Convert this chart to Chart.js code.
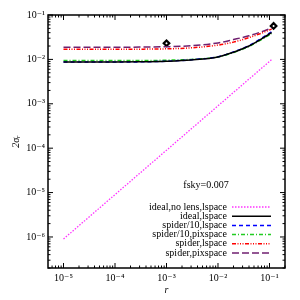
<!DOCTYPE html>
<html>
<head>
<meta charset="utf-8">
<script src="https://cdn.jsdelivr.net/npm/chart.js@4"></script>
<style>
  html, body { margin: 0; padding: 0; background: #fff; }
</style>
</head>
<body>
<canvas id="grafico" width="300" height="300"></canvas>
<script>
// valores de r (eje x)
const rVals = [1e-5, 3e-5, 1e-4, 3e-4, 1e-3, 3e-3, 1e-2, 2e-2, 4e-2, 7e-2, 0.11];

// 2 sigma_r para cada caso
const idealNoLens = [9e-7, 2.7e-6, 9e-6, 2.7e-5, 9e-5, 2.7e-4, 9e-4, 1.8e-3, 3.6e-3, 6.3e-3, 9.9e-3];
const idealLspace = [0.0087, 0.0087, 0.0087, 0.0088, 0.0091, 0.0097, 0.0113, 0.0145, 0.020, 0.029, 0.040];
const spider10Lspace = [0.0087, 0.0087, 0.0087, 0.0088, 0.0091, 0.0098, 0.0115, 0.0148, 0.0205, 0.030, 0.042];
const spider10Pix = [0.0094, 0.0094, 0.0094, 0.0094, 0.0096, 0.0100, 0.0114, 0.0143, 0.0195, 0.028, 0.038];
const spiderLspace = [0.0169, 0.0169, 0.0169, 0.0170, 0.0173, 0.0182, 0.021, 0.0245, 0.031, 0.039, 0.048];
const spiderPix = [0.0188, 0.0188, 0.0188, 0.0189, 0.0193, 0.0203, 0.0235, 0.028, 0.034, 0.042, 0.051];

// marcadores (rombos)
const diamondR = [1e-3, 0.12];
const diamondS = [0.0231, 0.0566];

const labels = ['ideal,no lens,lspace', 'ideal,lspace', 'spider/10,lspace', 'spider/10,pixspace', 'spider,lspace', 'spider,pixspace'];

const serif = "'Liberation Serif', 'DejaVu Serif', serif";
const supMap = { '-': '\u207B', '0': '\u2070', '1': '\u00B9', '2': '\u00B2', '3': '\u00B3', '4': '\u2074', '5': '\u2075', '6': '\u2076', '7': '\u2077', '8': '\u2078', '9': '\u2079' };
const sup = n => String(n).split('').map(c => supMap[c]).join('');

const decadeLabel = v => {
  const e = Math.log10(v);
  if (Math.abs(e - Math.round(e)) < 1e-6) return '10' + sup(Math.round(e));
  return '';
};

const toPts = ys => rVals.map((r, i) => ({ x: r, y: ys[i] }));

const linea = (label, ys, color, dash, width) => ({
  label: label,
  data: toPts(ys),
  showLine: true,
  borderColor: color,
  backgroundColor: color,
  borderDash: dash,
  borderWidth: width,
  pointRadius: 0,
  cubicInterpolationMode: 'monotone',
  fill: false
});

// marco, ticks hacia adentro, leyenda y texto fsky
const marco = {
  id: 'marco',
  afterDraw(chart) {
    const ctx = chart.ctx;
    const a = chart.chartArea;
    const xs = chart.scales.x, ys = chart.scales.y;
    ctx.save();
    ctx.strokeStyle = '#000';
    ctx.lineWidth = 1;
    const marcas = (scale, horiz) => {
      for (let d = -8; d <= 0; d++) {
        for (let k = 1; k <= 9; k++) {
          const v = k * Math.pow(10, d);
          if (v < scale.min || v > scale.max) continue;
          const p = scale.getPixelForValue(v);
          const len = k === 1 ? 5 : 2.5;
          ctx.beginPath();
          if (horiz) {
            ctx.moveTo(p, a.bottom); ctx.lineTo(p, a.bottom - len);
            ctx.moveTo(p, a.top); ctx.lineTo(p, a.top + len);
          } else {
            ctx.moveTo(a.left, p); ctx.lineTo(a.left + len, p);
            ctx.moveTo(a.right, p); ctx.lineTo(a.right - len, p);
          }
          ctx.stroke();
        }
      }
    };
    marcas(xs, true);
    marcas(ys, false);
    ctx.lineWidth = 1.5;
    ctx.strokeRect(a.left, a.top, a.right - a.left, a.bottom - a.top);

    // texto fsky
    ctx.fillStyle = '#000';
    ctx.font = '10px ' + serif;
    ctx.textAlign = 'center';
    ctx.textBaseline = 'middle';
    ctx.fillText('fsky=0.007', a.left + 158, a.top + 170);

    // leyenda
    const textoX = a.left + 179;
    const l0 = a.left + 184, l1 = a.left + 223;
    let y = a.top + 192;
    chart.data.datasets.forEach(ds => {
      if (!ds.showLine) return;
      ctx.textAlign = 'right';
      ctx.fillStyle = '#000';
      ctx.fillText(ds.label, textoX, y);
      ctx.beginPath();
      ctx.strokeStyle = ds.borderColor;
      ctx.lineWidth = ds.borderWidth;
      ctx.setLineDash(ds.borderDash);
      ctx.moveTo(l0, y); ctx.lineTo(l1, y);
      ctx.stroke();
      ctx.setLineDash([]);
      y += 9.2;
    });
    ctx.restore();
  }
};

new Chart(document.getElementById('grafico').getContext('2d'), {
  type: 'scatter',
  data: {
    datasets: [
      linea(labels[0], idealNoLens, '#ff33ff', [1.5, 1.5], 1.3),
      linea(labels[1], idealLspace, '#000000', [], 1.5),
      linea(labels[2], spider10Lspace, '#0000ff', [4, 3], 1.5),
      linea(labels[3], spider10Pix, '#22cc22', [4, 2, 1, 2], 1.5),
      linea(labels[4], spiderLspace, '#ff0000', [4, 1.5, 1, 1.5, 1, 1.5, 1, 1.5], 1.5),
      linea(labels[5], spiderPix, '#702070', [7, 3], 1.5),
      {
        label: '',
        data: diamondR.map((r, i) => ({ x: r, y: diamondS[i] })),
        showLine: false,
        pointStyle: 'rectRot',
        pointRadius: 2.8,
        backgroundColor: '#ffffff',
        borderColor: '#000000',
        borderWidth: 2.2
      }
    ]
  },
  options: {
    responsive: false,
    animation: false,
    layout: { padding: { top: 15, right: 15, left: 0, bottom: 0 } },
    plugins: {
      legend: { display: false },
      tooltip: { enabled: false }
    },
    scales: {
      x: {
        type: 'logarithmic',
        min: 5e-6,
        max: 0.2,
        grid: { display: false, drawTicks: false },
        border: { display: false },
        ticks: {
          autoSkip: false,
          maxRotation: 0,
          padding: 4,
          color: '#000',
          font: { family: serif, size: 10 },
          callback: decadeLabel
        },
        title: {
          display: true,
          text: 'r',
          color: '#000',
          font: { family: serif, size: 10, style: 'italic' },
          padding: { top: 0, bottom: 4 }
        },
        afterFit(s) { s.height = 32; }
      },
      y: {
        type: 'logarithmic',
        min: 2e-7,
        max: 0.1,
        grid: { display: false, drawTicks: false },
        border: { display: false },
        ticks: {
          autoSkip: false,
          padding: 3,
          color: '#000',
          font: { family: serif, size: 10 },
          callback: decadeLabel
        },
        title: {
          display: true,
          text: '2\u03C3\u1D63',
          color: '#000',
          font: { family: serif, size: 10, style: 'italic' },
          padding: { top: 10, bottom: 0 }
        },
        afterFit(s) { s.width = 48; }
      }
    }
  },
  plugins: [marco]
});
</script>
</body>
</html>
